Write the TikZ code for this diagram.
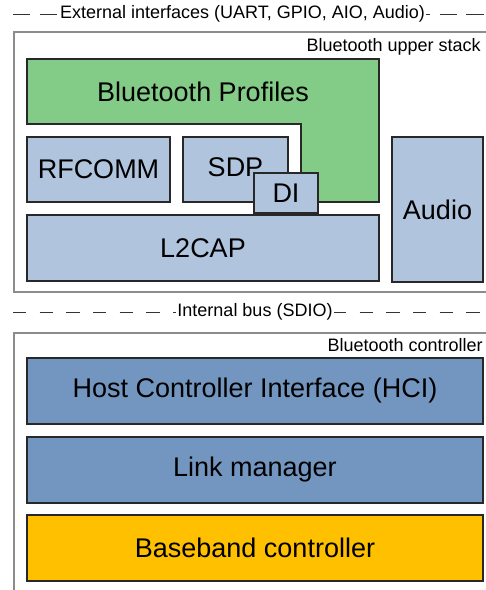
\documentclass[tikz,border=0pt]{standalone}
\usepackage{fontspec}
\setmainfont{Liberation Sans}
\usetikzlibrary{fit}
\definecolor{profgreen}{RGB}{131,204,135}
\definecolor{lightblu}{RGB}{176,196,222}
\definecolor{darkblu}{RGB}{115,150,193}
\definecolor{bborange}{RGB}{255,192,0}
\definecolor{edge}{RGB}{40,40,40}
\tikzset{
  bigfont/.style={font=\fontsize{20.25}{24}\selectfont},
  box/.style={draw=edge, line width=0.8pt, inner sep=0pt},
  light/.style={box, fill=lightblu},
  dark/.style={box, fill=darkblu},
  outer/.style={draw=gray!90, line width=1.1pt},
  small/.style={font=\fontsize{13.5}{16}\selectfont, inner sep=0pt},
  bus/.style={draw=black!80, line width=0.7pt},
  buslabel/.style={small, fill=white, inner xsep=1pt, inner ysep=2pt},
  txt/.style={label={[bigfont, anchor=center]center:#1}}
}
\begin{document}
\begin{tikzpicture}[x=0.75pt, y=-0.75pt]
\useasboundingbox (0,0) rectangle (486,590);
\begin{scope}
\clip (0,0) rectangle (486,590);
% top dashed bus
\draw[bus, dash pattern=on 13pt off 7pt] (13,14) -- (486,14);
\node[buslabel] (ext) at (242.5,14) {External interfaces (UART, GPIO, AIO, Audio)};
% upper stack box
\draw[outer] (500,32) -- (14,32) -- (14,292) -- (500,292);
\node[small, anchor=east] (ups) at (481,47) {Bluetooth upper stack};
% profiles L-shape
\draw[draw=edge, line width=0.8pt, fill=profgreen]
  (27,59) -- (379,59) -- (379,202) -- (301,202) -- (301,124) -- (27,124) -- cycle;
\node[bigfont] (prof) at (203,91.5) {Bluetooth Profiles};
\node[light, fit={(27,137) (170,202)}, txt=RFCOMM] (rfcomm) {};
\node[light, fit={(183,137) (288,202)}] (sdp) {};
\node[bigfont] (sdpt) at (235.5,167) {SDP};
\node[light, fit={(254,173) (318,213)}, txt=DI] (di) {};
\node[light, fit={(27,215) (379,281)}, txt=L2CAP] (l2cap) {};
\node[light, fit={(392,137) (483,282)}, txt=Audio] (audio) {};
% internal bus
\draw[bus, dash pattern=on 10pt off 10pt] (13,312) -- (486,312);
\node[buslabel] (int) at (255,312) {Internal bus (SDIO)};
% controller box
\draw[outer] (500,333) -- (14,333) -- (14,600);
\node[small, anchor=east] (ctl) at (483,345) {Bluetooth controller};
\node[dark, fit={(27,358) (483,424)}, txt={Host Controller Interface (HCI)}] (hci) {};
\node[dark, fit={(27,437) (483,503)}, txt={Link manager}] (lm) {};
\node[box, fill=bborange, fit={(27,515) (483,581)}, txt={Baseband controller}] (bb) {};
\end{scope}
\end{tikzpicture}
\end{document}
